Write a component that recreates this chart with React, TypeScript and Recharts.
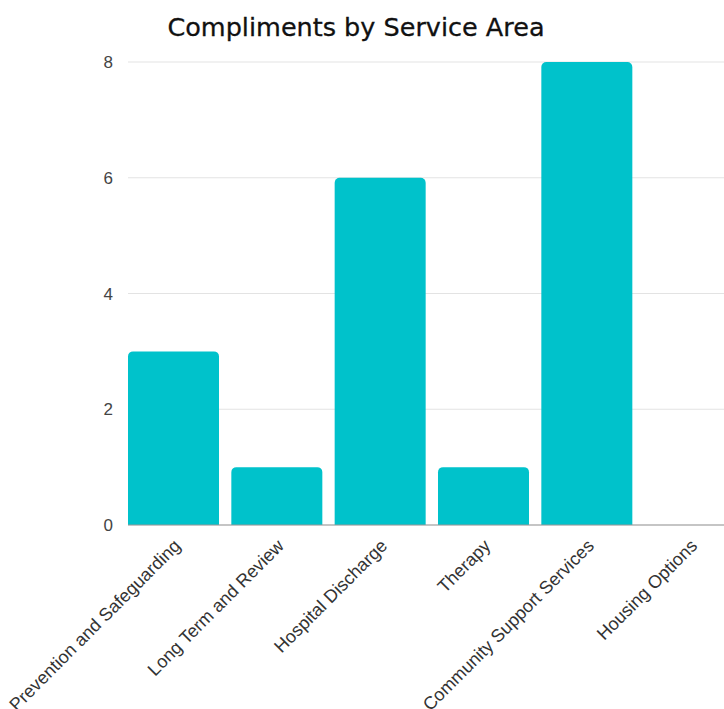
import { BarChart, Bar, XAxis, YAxis, CartesianGrid } from "recharts";

const serviceAreas = [
  "Prevention and Safeguarding",
  "Long Term and Review",
  "Hospital Discharge",
  "Therapy",
  "Community Support Services",
  "Housing Options",
];
const compliments = [3, 1, 6, 1, 8, 0];
const yTicks = [0, 2, 4, 6, 8];

const chartData = serviceAreas.map((name, i) => ({ name, value: compliments[i] }));

const AngledTick = ({ x, y, payload }: any) => (
  <g transform={`translate(${x + 8},${y + 14})`}>
    <text
      x={0}
      y={0}
      transform="rotate(-45)"
      textAnchor="end"
      fill="#333"
      style={{ fontSize: 18, fontFamily: "'Liberation Sans', Arial, sans-serif" }}
    >
      {payload.value}
    </text>
  </g>
);

export default function App() {
  return (
    <div
      style={{
        position: "absolute",
        left: 0,
        top: 0,
        width: 724,
        height: 709,
        overflow: "hidden",
        background: "#fff",
      }}
    >
      <div
        style={{
          position: "absolute",
          left: 0,
          width: 712,
          top: 12,
          textAlign: "center",
          fontFamily: "'DejaVu Sans', sans-serif",
          fontWeight: 500,
          fontSize: 25.5,
          color: "#111",
          WebkitTextStroke: "0.3px #111",
        }}
      >
        Compliments by Service Area
      </div>
      <BarChart
        width={750}
        height={709}
        data={chartData}
        margin={{ top: 62, right: 8, bottom: 0, left: 0 }}
      >
        <CartesianGrid vertical={false} stroke="#e3e3e3" />
        <XAxis
          dataKey="name"
          interval={0}
          height={184}
          padding={{ left: -6, right: 0 }}
          tickLine={false}
          axisLine={{ stroke: "#999" }}
          tick={<AngledTick />}
        />
        <YAxis
          width={128}
          domain={[0, 8]}
          ticks={yTicks}
          axisLine={false}
          tickLine={false}
          tickSize={0}
          tickMargin={15}
          tick={{ fill: "#444", fontSize: 17, fontFamily: "'Liberation Sans', Arial, sans-serif" }}
        />
        <Bar
          dataKey="value"
          fill="#00c2cb"
          barSize={91}
          radius={[5, 5, 0, 0]}
          isAnimationActive={false}
        />
      </BarChart>
    </div>
  );
}
